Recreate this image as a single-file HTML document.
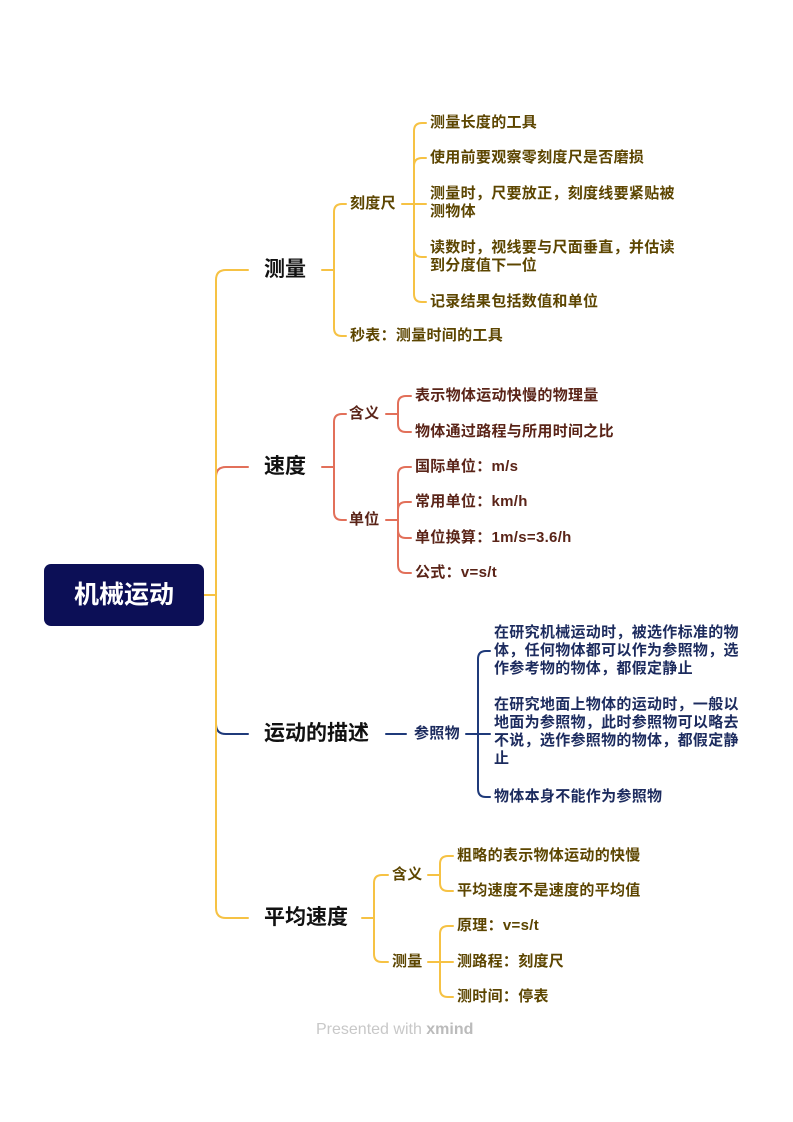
<!DOCTYPE html>
<html><head><meta charset="utf-8"><style>
body{margin:0;width:793px;height:1122px;background:#fff;position:relative;overflow:hidden;font-family:"Liberation Sans","Noto Sans CJK SC",sans-serif;font-weight:bold}
.t{position:absolute;white-space:nowrap;line-height:18px;font-size:15px;letter-spacing:0.3px}
.m{position:absolute;white-space:nowrap;font-size:21px;line-height:26px;color:#111}
.y{color:#5c4500}.r{color:#5a2418}.n{color:#1c2b5e}
.root{position:absolute;left:44px;top:564px;width:160px;height:62px;background:#0c0f56;border-radius:7px;color:#fff;font-size:25px;line-height:62px;text-align:center}
</style></head><body>
<svg width="793" height="1122" style="position:absolute;left:0;top:0" fill="none" stroke-width="2" stroke-linecap="round">
<g stroke="#E2705A">
<path d="M216 595 V477 Q216 467 226 467 H248"/>
<path d="M322 467 H334 M334 467 V422 Q334 414 342 414 H346 M334 467 V512 Q334 520 342 520 H346"/>
<path d="M386 414 H398 M398 414 V404 Q398 396 406 396 H411 M398 414 V424 Q398 432 406 432 H411"/>
<path d="M386 520 H398 M398 520 V475 Q398 467 406 467 H411 M398 520 V510 Q398 502 406 502 H411 M398 520 V530 Q398 538 406 538 H411 M398 520 V565 Q398 573 406 573 H411"/>
</g>
<g stroke="#1F3A7A">
<path d="M216 595 V724 Q216 734 226 734 H248"/>
<path d="M386 734 H406"/>
<path d="M466 734 H478 M478 734 V659 Q478 651 486 651 H490 M478 734 H490 M478 734 V789 Q478 797 486 797 H490"/>
</g>
<g stroke="#F6C244">
<path d="M204 595 H216"/>
<path d="M216 595 V280 Q216 270 226 270 H248"/>
<path d="M216 595 V908 Q216 918 226 918 H248"/>
<path d="M322 270 H334 M334 270 V212 Q334 204 342 204 H346 M334 270 V328 Q334 336 342 336 H346"/>
<path d="M402 204 H414 M414 204 V131 Q414 123 422 123 H426 M414 204 V166 Q414 158 422 158 H426 M414 204 H426 M414 204 V249 Q414 257 422 257 H426 M414 204 V294 Q414 302 422 302 H426"/>
<path d="M362 918 H374 M374 918 V883 Q374 875 382 875 H388 M374 918 V954 Q374 962 382 962 H388"/>
<path d="M428 875 H440 M440 875 V864 Q440 856 448 856 H453 M440 875 V883 Q440 891 448 891 H453"/>
<path d="M428 962 H440 M440 962 V934 Q440 926 448 926 H453 M440 962 H453 M440 962 V989 Q440 997 448 997 H453"/>
</g>
</svg>
<div class="root">机械运动</div>

<div class="m" style="left:264px;top:257px">测量</div>
<div class="t y" style="left:350px;top:195px">刻度尺</div>
<div class="t y" style="left:430px;top:114px">测量长度的工具</div>
<div class="t y" style="left:430px;top:149px">使用前要观察零刻度尺是否磨损</div>
<div class="t y" style="left:430px;top:185px">测量时，尺要放正，刻度线要紧贴被<br>测物体</div>
<div class="t y" style="left:430px;top:239px">读数时，视线要与尺面垂直，并估读<br>到分度值下一位</div>
<div class="t y" style="left:430px;top:293px">记录结果包括数值和单位</div>
<div class="t y" style="left:350px;top:327px">秒表：测量时间的工具</div>

<div class="m" style="left:264px;top:454px">速度</div>
<div class="t r" style="left:349px;top:405px">含义</div>
<div class="t r" style="left:349px;top:511px">单位</div>
<div class="t r" style="left:415px;top:387px">表示物体运动快慢的物理量</div>
<div class="t r" style="left:415px;top:423px">物体通过路程与所用时间之比</div>
<div class="t r" style="left:415px;top:458px">国际单位：m/s</div>
<div class="t r" style="left:415px;top:493px">常用单位：km/h</div>
<div class="t r" style="left:415px;top:529px">单位换算：1m/s=3.6/h</div>
<div class="t r" style="left:415px;top:564px">公式：v=s/t</div>

<div class="m" style="left:264px;top:721px">运动的描述</div>
<div class="t n" style="left:414px;top:725px">参照物</div>
<div class="t n" style="left:494px;top:624px">在研究机械运动时，被选作标准的物<br>体，任何物体都可以作为参照物，选<br>作参考物的物体，都假定静止</div>
<div class="t n" style="left:494px;top:696px">在研究地面上物体的运动时，一般以<br>地面为参照物，此时参照物可以略去<br>不说，选作参照物的物体，都假定静<br>止</div>
<div class="t n" style="left:494px;top:788px">物体本身不能作为参照物</div>

<div class="m" style="left:264px;top:905px">平均速度</div>
<div class="t y" style="left:392px;top:866px">含义</div>
<div class="t y" style="left:392px;top:953px">测量</div>
<div class="t y" style="left:457px;top:847px">粗略的表示物体运动的快慢</div>
<div class="t y" style="left:457px;top:882px">平均速度不是速度的平均值</div>
<div class="t y" style="left:457px;top:917px">原理：v=s/t</div>
<div class="t y" style="left:457px;top:953px">测路程：刻度尺</div>
<div class="t y" style="left:457px;top:988px">测时间：停表</div>

<div style="position:absolute;left:316px;top:1021px;font-size:16px;font-weight:normal;color:#c8c8c8;line-height:18px">Presented with <b style="color:#bbb">xmind</b></div>
</body></html>
